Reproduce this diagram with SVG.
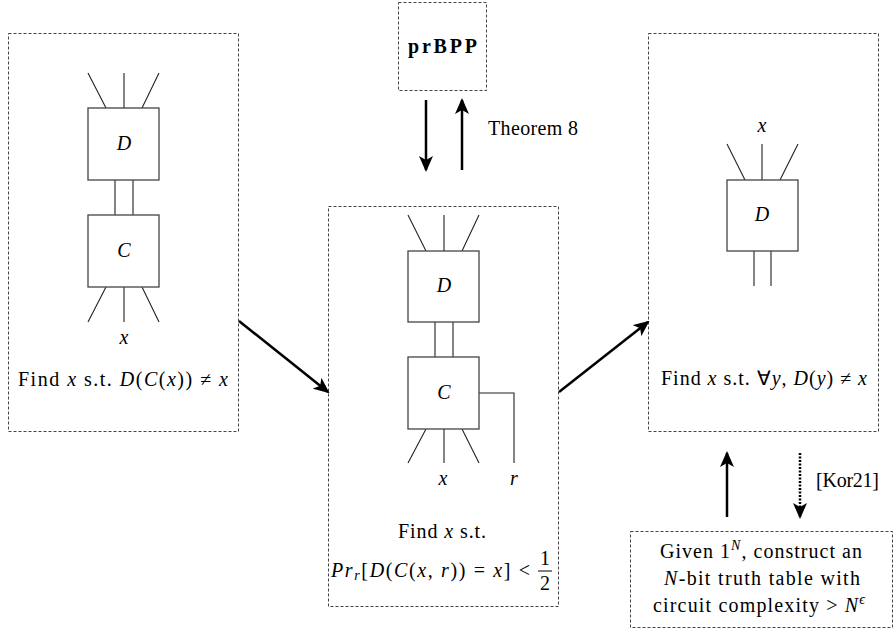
<svg xmlns="http://www.w3.org/2000/svg" width="894" height="631" viewBox="0 0 894 631">
<style>
.box{fill:none;stroke:#444;stroke-width:1;stroke-dasharray:3,2}
.gate{fill:#fff;stroke:#444;stroke-width:1.3}
.w{stroke:#222;stroke-width:1.1;fill:none}
.arr{stroke:#000;stroke-width:2.5;fill:none}
.t{font-family:"Liberation Serif","Times New Roman",serif;font-size:20px;fill:#000}
.i{font-style:italic}
</style>
<defs>
<marker id="ah" markerUnits="userSpaceOnUse" markerWidth="16" markerHeight="14" viewBox="0 0 16 14" refX="14" refY="7" orient="auto">
<path d="M0,0 L16,7 L0,14 L4,7 z" fill="#000"/>
</marker>
</defs>
<rect width="894" height="631" fill="#fff"/>

<g id="left">
<rect class="box" x="8.5" y="33.5" width="230" height="398"/>
<path class="w" d="M88,73 L106,108 M124,73 L124,108 M159,73 L142,108 M115,180 L115,215 M133,180 L133,215 M106,287 L88,322 M124,287 L124,322 M142,287 L159,322"/>
<rect class="gate" x="88" y="108" width="71" height="72"/>
<rect class="gate" x="88" y="215" width="71" height="72"/>
<text class="t i" x="124" y="150" text-anchor="middle">D</text>
<text class="t i" x="124" y="257" text-anchor="middle">C</text>
<text class="t i" x="124" y="344" text-anchor="middle">x</text>
<text class="t" x="18" y="386" textLength="210">Find <tspan class="i">x</tspan> s.t. <tspan class="i">D</tspan>(<tspan class="i">C</tspan>(<tspan class="i">x</tspan>)) ≠ <tspan class="i">x</tspan></text>
</g>

<g id="prbpp">
<rect class="box" x="398.5" y="2.5" width="88" height="88"/>
<text class="t" x="408" y="53" font-size="23" textLength="69" font-weight="bold">prBPP</text>
</g>

<g id="center">
<rect class="box" x="328.5" y="206.5" width="230" height="400"/>
<path class="w" d="M408,215 L426,251 M444,215 L444,251 M479,215 L462,251 M435,322 L435,357 M453,322 L453,357 M426,429 L408,463 M444,429 L444,463 M462,429 L479,463 M479,393 L514,393 L514,463"/>
<rect class="gate" x="408" y="251" width="71" height="71"/>
<rect class="gate" x="408" y="357" width="71" height="72"/>
<text class="t i" x="444" y="292" text-anchor="middle">D</text>
<text class="t i" x="444" y="399" text-anchor="middle">C</text>
<text class="t i" x="443" y="485" text-anchor="middle">x</text>
<text class="t i" x="514" y="485" text-anchor="middle">r</text>
<text class="t" x="398" y="538" textLength="88">Find <tspan class="i">x</tspan> s.t.</text>
<text class="t" x="331" y="577" textLength="199"><tspan class="i">Pr</tspan><tspan class="i" font-size="14" dy="3">r</tspan><tspan dy="-3">[</tspan><tspan class="i">D</tspan>(<tspan class="i">C</tspan>(<tspan class="i">x</tspan>, <tspan class="i">r</tspan>)) = <tspan class="i">x</tspan>] &lt;</text>
<text class="t" x="545" y="565" text-anchor="middle">1</text>
<line x1="538" y1="571" x2="552" y2="571" stroke="#000" stroke-width="1"/>
<text class="t" x="545" y="590" text-anchor="middle">2</text>
</g>

<g id="right">
<rect class="box" x="648.5" y="33.5" width="230" height="398"/>
<path class="w" d="M727,144 L745,180 M762,144 L762,180 M798,144 L780,180 M754,251 L754,286 M771,251 L771,286"/>
<rect class="gate" x="727" y="180" width="71" height="71"/>
<text class="t i" x="762" y="221" text-anchor="middle">D</text>
<text class="t i" x="762" y="132" text-anchor="middle">x</text>
<text class="t" x="661" y="385" textLength="206">Find <tspan class="i">x</tspan> s.t. ∀<tspan class="i">y</tspan>, <tspan class="i">D</tspan>(<tspan class="i">y</tspan>) ≠ <tspan class="i">x</tspan></text>
</g>

<g id="bottom">
<rect class="box" x="630.5" y="531.5" width="262" height="96"/>
<text class="t" x="660" y="558" textLength="202">Given 1<tspan font-size="14" dy="-8" class="i">N</tspan><tspan dy="8">, construct an</tspan></text>
<text class="t" x="664" y="585" textLength="196"><tspan class="i">N</tspan>-bit truth table with</text>
<text class="t" x="653" y="612" textLength="212">circuit complexity  &gt; <tspan class="i">N</tspan><tspan font-size="14" dy="-8" class="i">ϵ</tspan></text>
</g>

<g id="connectors">
<line class="arr" x1="426" y1="100" x2="426" y2="170" marker-end="url(#ah)"/>
<line class="arr" x1="462" y1="170" x2="462" y2="100" marker-end="url(#ah)"/>
<text class="t" x="488" y="135" textLength="90">Theorem 8</text>
<line class="arr" x1="239" y1="321" x2="328" y2="392" marker-end="url(#ah)"/>
<line class="arr" x1="559" y1="392" x2="648" y2="322" marker-end="url(#ah)"/>
<line class="arr" x1="727" y1="517" x2="727" y2="453" marker-end="url(#ah)"/>
<line class="arr" x1="800" y1="453" x2="800" y2="517" stroke-dasharray="2,1.5" marker-end="url(#ah)"/>
<text class="t" x="816" y="487" textLength="63">[Kor21]</text>
</g>
</svg>
